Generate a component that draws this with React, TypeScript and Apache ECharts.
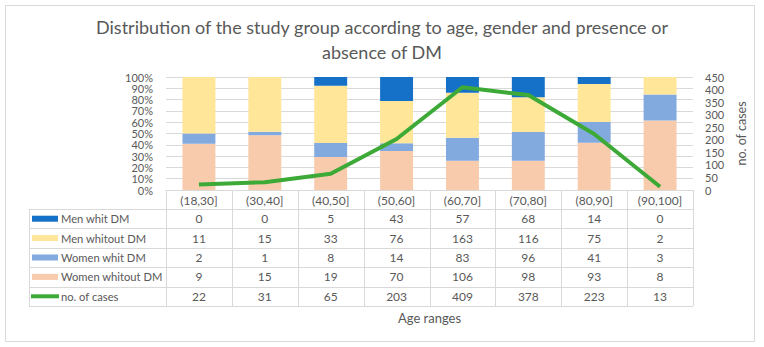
import React, { useEffect, useRef } from "react";
import * as echarts from "echarts";

const categories = ["(18,30]", "(30,40]", "(40,50]", "(50,60]", "(60,70]", "(70,80]", "(80,90]", "(90,100]"];
const menWithDM = [0, 0, 5, 43, 57, 68, 14, 0];
const menWithoutDM = [11, 15, 33, 76, 163, 116, 75, 2];
const womenWithDM = [2, 1, 8, 14, 83, 96, 41, 3];
const womenWithoutDM = [9, 15, 19, 70, 106, 98, 93, 8];
const cases = [22, 31, 65, 203, 409, 378, 223, 13];

const COLORS = {
  menDM: "#1570C8",
  menNo: "#FFE699",
  womenDM: "#82AADF",
  womenNo: "#F8CBAD",
  line: "#3DAA38",
};

const FONT = "Lato";
const TXT = "#595959";
const GRIDC = "#d9d9d9";

const W = 764;
const H = 347;
const G_LEFT = 166;
const G_RIGHT = 693;
const G_TOP = 77;
const G_BOTTOM = 190;

export default function App() {
  const ref = useRef<HTMLDivElement>(null);
  useEffect(() => {
    document.body.style.margin = "0";
    const chart = echarts.init(ref.current!, null, { renderer: "svg" });
    const totals = categories.map((_, i) => menWithDM[i] + menWithoutDM[i] + womenWithDM[i] + womenWithoutDM[i]);
    const pct = (arr: number[]) => arr.map((v, i) => (totals[i] ? (v / totals[i]) * 100 : 0));

    const rows = [
      { name: "Men whit DM", data: menWithDM, color: COLORS.menDM, line: false },
      { name: "Men whitout DM", data: menWithoutDM, color: COLORS.menNo, line: false },
      { name: "Women whit DM", data: womenWithDM, color: COLORS.womenDM, line: false },
      { name: "Women whitout DM", data: womenWithoutDM, color: COLORS.womenNo, line: false },
      { name: "no. of cases", data: cases, color: COLORS.line, line: true },
    ];

    const colW = (G_RIGHT - G_LEFT) / categories.length;
    const headTop = G_BOTTOM;
    const rowTop = 209;
    const rowH = 19.4;
    const tableBottom = rowTop + rowH * rows.length;
    const legLeft = 29;

    const gfx: any[] = [];
    gfx.push({
      type: "rect",
      shape: { x: 5.5, y: 5.5, width: 749, height: 336 },
      style: { fill: "none", stroke: GRIDC, lineWidth: 1 },
      silent: true,
    });
    gfx.push({ type: "line", shape: { x1: legLeft + 0.5, y1: rowTop, x2: legLeft + 0.5, y2: tableBottom }, style: { stroke: GRIDC, lineWidth: 1 } });
    for (let i = 0; i <= categories.length; i++) {
      const x = Math.round(G_LEFT + i * colW) + 0.5;
      gfx.push({ type: "line", shape: { x1: x, y1: headTop, x2: x, y2: tableBottom }, style: { stroke: GRIDC, lineWidth: 1 } });
    }
    for (let r = 0; r <= rows.length; r++) {
      const y = Math.round(rowTop + r * rowH) + 0.5;
      gfx.push({ type: "line", shape: { x1: legLeft, y1: y, x2: G_RIGHT, y2: y }, style: { stroke: GRIDC, lineWidth: 1 } });
    }
    rows.forEach((row, r) => {
      const cy = rowTop + r * rowH + rowH / 2;
      if (row.line) {
        gfx.push({ type: "rect", shape: { x: 31, y: cy - 2, width: 28, height: 4 }, style: { fill: row.color } });
      } else {
        gfx.push({ type: "rect", shape: { x: 32, y: cy - 3, width: 26, height: 6 }, style: { fill: row.color } });
      }
      gfx.push({
        type: "text",
        x: 61,
        y: cy,
        style: { text: row.name, fill: TXT, font: `11.2px ${FONT}`, verticalAlign: "middle" },
      });
      row.data.forEach((v, i) => {
        gfx.push({
          type: "text",
          x: G_LEFT + (i + 0.5) * colW,
          y: cy,
          style: { text: String(v), fill: TXT, font: `12px ${FONT}`, align: "center", verticalAlign: "middle" },
        });
      });
    });
    gfx.push({
      type: "text",
      x: (G_LEFT + G_RIGHT) / 2,
      y: 318,
      style: { text: "Age ranges", fill: TXT, font: `13px ${FONT}`, align: "center", verticalAlign: "middle" },
    });

    const barSeries = [
      { name: "Women whitout DM", data: pct(womenWithoutDM), color: COLORS.womenNo },
      { name: "Women whit DM", data: pct(womenWithDM), color: COLORS.womenDM },
      { name: "Men whitout DM", data: pct(menWithoutDM), color: COLORS.menNo },
      { name: "Men whit DM", data: pct(menWithDM), color: COLORS.menDM },
    ].map((s) => ({
      type: "bar",
      name: s.name,
      stack: "total",
      data: s.data,
      barWidth: "50%",
      itemStyle: { color: s.color },
      yAxisIndex: 0,
    }));

    const tickLabel = {
      color: TXT,
      fontSize: 11,
      fontFamily: FONT,
    };

    chart.setOption({
      animation: false,
      textStyle: { fontFamily: FONT },
      title: {
        text: "Distribution of the study group according to age, gender and presence or\nabsence of DM",
        left: "center",
        top: 9,
        textStyle: { fontFamily: FONT, fontSize: 18, fontWeight: "normal", color: TXT, lineHeight: 25 },
      },
      grid: { left: G_LEFT, right: W - G_RIGHT, top: G_TOP, bottom: H - G_BOTTOM },
      xAxis: {
        type: "category",
        data: categories,
        axisLine: { lineStyle: { color: GRIDC } },
        axisTick: { show: false },
        axisLabel: { color: TXT, fontSize: 12, fontFamily: FONT, margin: 4, interval: 0 },
      },
      yAxis: [
        {
          type: "value",
          min: 0,
          max: 100,
          interval: 10,
          axisLabel: { ...tickLabel, formatter: "{value}%", margin: 13, showMinLabel: false, showMaxLabel: false },
          splitLine: { lineStyle: { color: GRIDC } },
          axisLine: { show: false },
          axisTick: { show: false },
        },
        {
          type: "value",
          min: 0,
          max: 450,
          interval: 50,
          position: "right",
          name: "no. of cases",
          nameLocation: "middle",
          nameRotate: 90,
          nameGap: 31,
          nameTextStyle: { color: TXT, fontSize: 12.5, fontFamily: FONT },
          axisLabel: { ...tickLabel, margin: 12 },
          splitLine: { show: false },
          axisLine: { show: false },
          axisTick: { show: false },
        },
        {
          type: "value",
          min: 0,
          max: 100,
          interval: 100,
          position: "left",
          axisLabel: { ...tickLabel, formatter: "{value}%", margin: 13 },
          splitLine: { show: false },
          axisLine: { show: false },
          axisTick: { show: false },
        },
      ],
      series: [
        ...barSeries,
        {
          type: "line",
          name: "no. of cases",
          data: cases,
          yAxisIndex: 1,
          showSymbol: false,
          symbol: "none",
          lineStyle: { color: COLORS.line, width: 4 },
          itemStyle: { color: COLORS.line },
          z: 5,
        },
      ],
      graphic: gfx,
    });
    return () => chart.dispose();
  }, []);
  return <div ref={ref} style={{ width: W, height: H }} />;
}
